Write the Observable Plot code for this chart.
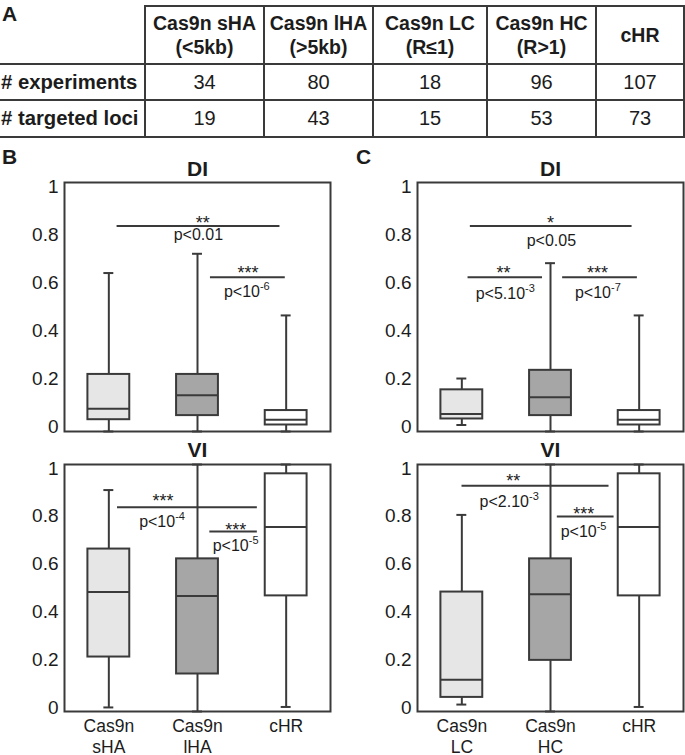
<!DOCTYPE html>
<html>
<head>
<meta charset="utf-8">
<script src="https://cdn.jsdelivr.net/npm/d3@7"></script>
<script src="https://cdn.jsdelivr.net/npm/@observablehq/plot@0.6"></script>
<style>
  html, body { margin: 0; padding: 0; background: #fff; }
  body { font-family: "Liberation Sans", Arial, Helvetica, sans-serif; color: #1c1c1c; }
  #root { position: relative; width: 685px; height: 755px; overflow: hidden; }
  .plab { position: absolute; font-weight: bold; font-size: 21px; line-height: 20px; color: #1c1c1c; }
  .pan { position: absolute; }
  table { position: absolute; left: 0; top: 5px; border-collapse: collapse; table-layout: fixed; width: 684px; }
  td { border: 2px solid #3a3a3a; text-align: center; vertical-align: middle; padding: 0; font-size: 20px; color: #1c1c1c; white-space: nowrap; }
  td.head { font-weight: bold; font-size: 19.5px; line-height: 24px; }
  td.corner { border-top: none; border-left: none; }
  td.rowlab { border-left: none; text-align: left; padding-left: 1px; font-weight: bold; font-size: 20.3px; }
</style>
</head>
<body>
<div id="root"></div>
<script>
// ---------- Table (panel A) ----------
const tableGroups = ["Cas9n sHA", "Cas9n lHA", "Cas9n LC", "Cas9n HC", "cHR"];
const tableSubs = ["(<5kb)", "(>5kb)", "(R≤1)", "(R>1)", ""];
const rowLabels = ["# experiments", "# targeted loci"];
const nExperiments = [34, 80, 18, 96, 107];
const nLoci = [19, 43, 15, 53, 73];

// ---------- Box plot categories ----------
const groupsB = ["Cas9n\nsHA", "Cas9n\nlHA", "cHR"];
const groupsC = ["Cas9n\nLC", "Cas9n\nHC", "cHR"];
const yTicks = [0, 0.2, 0.4, 0.6, 0.8, 1];

// summaries: [lower whisker, Q1, median, Q3, upper whisker]
const diSHA = [-0.017, 0.032, 0.077, 0.220, 0.641];
const diLHA = [-0.017, 0.049, 0.134, 0.220, 0.721];
const diLC  = [0.010, 0.035, 0.056, 0.156, 0.203];
const diHC  = [-0.017, 0.049, 0.125, 0.237, 0.682];
const diCHR = [-0.017, 0.010, 0.032, 0.070, 0.465];

const viSHA = [0.000, 0.211, 0.483, 0.663, 0.910];
const viLHA = [-0.017, 0.140, 0.467, 0.622, 1.017];
const viLC  = [0.012, 0.042, 0.116, 0.483, 0.806];
const viHC  = [-0.017, 0.197, 0.474, 0.622, 1.017];
const viCHR = [0.002, 0.467, 0.755, 0.978, 1.017];

// significance bars (x in group-index units, y in value units)
const sigB_DI = {x1: [0.093, 1.146], x2: [1.93, 1.99], y: [0.836, 0.624],
  stars: ["**", "***"], starX: [1.06, 1.57], starY: [0.868, 0.659],
  p: ["p<0.01", "p<10^-6"], pX: [1.01, 1.556], pY: [0.799, 0.563]};
const sigB_VI = {x1: [0.098, 1.139], x2: [1.675, 1.675], y: [0.838, 0.737],
  stars: ["***", "***"], starX: [0.61, 1.43], starY: [0.882, 0.760],
  p: ["p<10^-4", "p<10^-5"], pX: [0.6, 1.43], pY: [0.776, 0.675]};
const sigC_DI = {x1: [0.096, 0.07, 1.137], x2: [1.92, 0.91, 1.98], y: [0.836, 0.624, 0.624],
  stars: ["*", "**", "***"], starX: [1.0, 0.47, 1.53], starY: [0.868, 0.659, 0.659],
  p: ["p<0.05", "p<5.10^-3", "p<10^-7"], pX: [1.01, 0.49, 1.534], pY: [0.775, 0.553, 0.557]};
const sigC_VI = {x1: [0.002, 1.077], x2: [1.66, 1.717], y: [0.928, 0.799],
  stars: ["**", "***"], starX: [0.58, 1.375], starY: [0.965, 0.827],
  p: ["p<2.10^-3", "p<10^-5"], pX: [0.534, 1.373], pY: [0.860, 0.737]};

// ---------- styling ----------
const FONT = '"Liberation Sans", Arial, Helvetica, sans-serif';
const INK = "#1c1c1c";
const LINE = "#3a3a3a";
const FILLS = ["#e6e6e6", "#a6a6a6", "#ffffff"];

const root = document.getElementById("root");

function addLabel(txt, left, top) {
  const d = document.createElement("div");
  d.className = "plab";
  d.textContent = txt;
  d.style.left = left + "px";
  d.style.top = top + "px";
  root.appendChild(d);
}

// build table
(function () {
  const table = document.createElement("table");
  const cg = document.createElement("colgroup");
  [145, 119, 109, 114, 109, 88].forEach(w => {
    const c = document.createElement("col"); c.style.width = w + "px"; cg.appendChild(c);
  });
  table.appendChild(cg);
  const hr = document.createElement("tr"); hr.style.height = "58px";
  const corner = document.createElement("td"); corner.className = "corner"; hr.appendChild(corner);
  tableGroups.forEach((g, i) => {
    const td = document.createElement("td"); td.className = "head";
    td.appendChild(document.createTextNode(g));
    if (tableSubs[i]) { td.appendChild(document.createElement("br")); td.appendChild(document.createTextNode(tableSubs[i])); }
    hr.appendChild(td);
  });
  table.appendChild(hr);
  [nExperiments, nLoci].forEach((vals, r) => {
    const tr = document.createElement("tr"); tr.style.height = (r === 0 ? 36 : 37) + "px";
    const lab = document.createElement("td"); lab.className = "rowlab"; lab.textContent = rowLabels[r]; tr.appendChild(lab);
    vals.forEach(v => { const td = document.createElement("td"); td.textContent = v; tr.appendChild(td); });
    table.appendChild(tr);
  });
  root.appendChild(table);
})();

addLabel("A", 2, 4);
addLabel("B", 2, 147);
addLabel("C", 356, 147);

function supify(svg) {
  const ns = "http://www.w3.org/2000/svg";
  svg.querySelectorAll("text").forEach(t => {
    const s = t.textContent;
    const k = s.indexOf("^");
    if (k < 0 || t.querySelector("tspan")) return;
    t.textContent = "";
    const a = document.createElementNS(ns, "tspan"); a.textContent = s.slice(0, k);
    const b = document.createElementNS(ns, "tspan"); b.textContent = s.slice(k + 1);
    b.setAttribute("dy", "-7"); b.setAttribute("font-size", "11");
    t.appendChild(a); t.appendChild(b);
  });
}

function panel({stats, groups, title, showX, sig, left, top, width, height, mt, mb, ml, mr}) {
  const rows = stats.map((s, i) => ({i, min: s[0], q1: s[1], med: s[2], q3: s[3], max: s[4], fill: FILLS[i]}));
  const ann = sig.x1.map((_, k) => ({x1: sig.x1[k], x2: sig.x2[k], y: sig.y[k], stars: sig.stars[k],
    starX: sig.starX[k], starY: sig.starY[k], p: sig.p[k], pX: sig.pX[k], pY: sig.pY[k]}));
  const W = 0.236, C = 0.056;
  const marks = [
    Plot.axisY({ticks: yTicks, tickSize: 0, tickPadding: 6, tickFormat: d => String(d), fontSize: 19}),
    showX ? Plot.axisX({ticks: [0, 1, 2], tickSize: 0, tickPadding: 6, tickFormat: i => groups[i], fontSize: 17.5, lineHeight: 1.2, lineAnchor: "top"}) : null,
    Plot.ruleX(rows, {x: "i", y1: "q3", y2: "max", stroke: LINE, strokeWidth: 2}),
    Plot.ruleX(rows, {x: "i", y1: "min", y2: "q1", stroke: LINE, strokeWidth: 2}),
    Plot.ruleY(rows, {y: "max", x1: d => d.i - C, x2: d => d.i + C, stroke: LINE, strokeWidth: 2}),
    Plot.ruleY(rows, {y: "min", x1: d => d.i - C, x2: d => d.i + C, stroke: LINE, strokeWidth: 2}),
    Plot.rect(rows, {x1: d => d.i - W, x2: d => d.i + W, y1: "q1", y2: "q3", fill: "fill", stroke: LINE, strokeWidth: 2}),
    Plot.ruleY(rows, {y: "med", x1: d => d.i - W, x2: d => d.i + W, stroke: LINE, strokeWidth: 2}),
    Plot.ruleY(ann, {y: "y", x1: "x1", x2: "x2", stroke: LINE, strokeWidth: 2}),
    Plot.text(ann, {x: "starX", y: "starY", text: "stars", fontSize: 18, dy: 4.5, fill: INK}),
    Plot.text(ann, {x: "pX", y: "pY", text: "p", fontSize: 16, fill: INK}),
    Plot.frame({stroke: LINE, strokeWidth: 2}),
    Plot.text([title], {text: d => d, frameAnchor: "top", lineAnchor: "middle", dy: title === "DI" ? -13 : -14, fontWeight: "bold", fontSize: 21, fill: INK})
  ];
  const p = Plot.plot({
    width, height, marginTop: mt, marginBottom: mb, marginLeft: ml, marginRight: mr,
    style: {fontFamily: FONT, fontSize: "19px", color: INK, background: "none", overflow: "visible"},
    x: {domain: [-0.5, 2.5], axis: showX ? undefined : null},
    y: {domain: [-0.017, 1.017]},
    color: {type: "identity"},
    marks
  });
  supify(p);
  const d = document.createElement("div");
  d.className = "pan";
  d.style.left = left + "px"; d.style.top = top + "px";
  d.appendChild(p);
  root.appendChild(d);
}

panel({stats: [diSHA, diLHA, diCHR], groups: groupsB, title: "DI", showX: false, sig: sigB_DI,
  left: 0, top: 140, width: 340, height: 300, mt: 42, mb: 9, ml: 64, mr: 10});
panel({stats: [viSHA, viLHA, viCHR], groups: groupsB, title: "VI", showX: true, sig: sigB_VI,
  left: 0, top: 434, width: 340, height: 321, mt: 30, mb: 44, ml: 64, mr: 10});
panel({stats: [diLC, diHC, diCHR], groups: groupsC, title: "DI", showX: false, sig: sigC_DI,
  left: 353, top: 140, width: 332, height: 300, mt: 42, mb: 9, ml: 64, mr: 2});
panel({stats: [viLC, viHC, viCHR], groups: groupsC, title: "VI", showX: true, sig: sigC_VI,
  left: 353, top: 434, width: 332, height: 321, mt: 30, mb: 44, ml: 64, mr: 2});
</script>
</body>
</html>
